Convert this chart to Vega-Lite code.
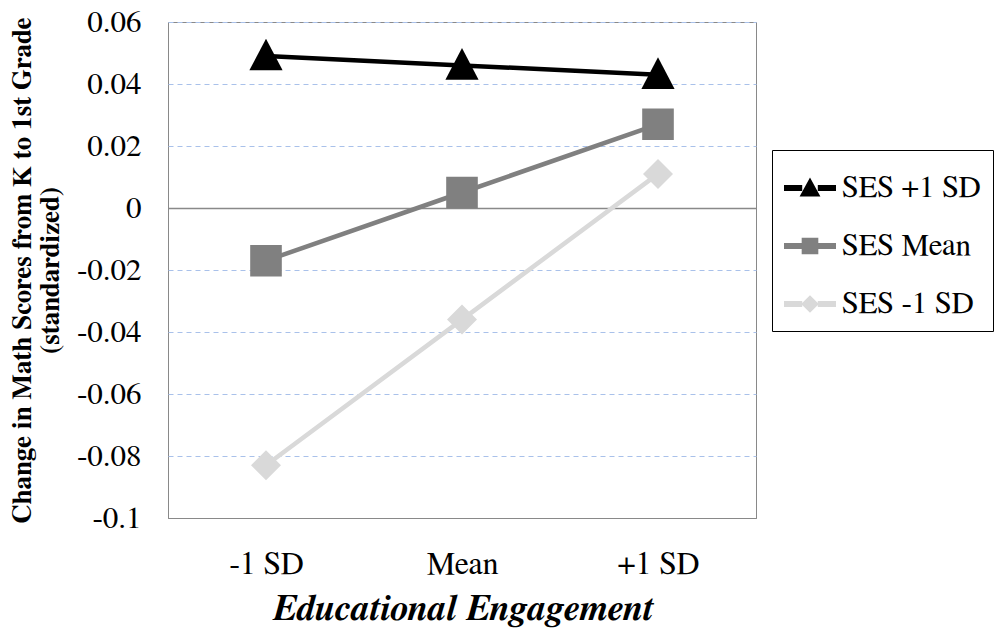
{
  "$schema": "https://vega.github.io/schema/vega-lite/v6.json",
  "width": 588,
  "height": 496,
  "autosize": {"type": "none"},
  "padding": {"left": 168, "top": 22, "right": 244, "bottom": 119},
  "background": "white",
  "config": {
    "font": "FreeSerif",
    "axis": {"labelFont": "FreeSerif", "titleFont": "FreeSerif"},
    "legend": {"labelFont": "FreeSerif"},
    "view": {"stroke": "#898989", "strokeWidth": 1}
  },
  "data": {
    "values": [
      {"engagement": "-1 SD", "series": "SES +1 SD", "value": 0.049},
      {"engagement": "Mean", "series": "SES +1 SD", "value": 0.046},
      {"engagement": "+1 SD", "series": "SES +1 SD", "value": 0.043},
      {"engagement": "-1 SD", "series": "SES Mean", "value": -0.017},
      {"engagement": "Mean", "series": "SES Mean", "value": 0.005},
      {"engagement": "+1 SD", "series": "SES Mean", "value": 0.027},
      {"engagement": "-1 SD", "series": "SES -1 SD", "value": -0.083},
      {"engagement": "Mean", "series": "SES -1 SD", "value": -0.036},
      {"engagement": "+1 SD", "series": "SES -1 SD", "value": 0.011}
    ]
  },
  "encoding": {
    "x": {
      "field": "engagement",
      "type": "nominal",
      "sort": ["-1 SD", "Mean", "+1 SD"],
      "scale": {"type": "point", "padding": 0.5},
      "axis": {
        "title": "Educational Engagement",
        "titleFontSize": 37,
        "titleFontWeight": "bold",
        "titleFontStyle": "italic",
        "titleColor": "black",
        "titlePadding": 11,
        "labelFontSize": 32,
        "labelColor": "black",
        "labelAngle": 0,
        "labelPadding": 30,
        "ticks": false,
        "domainColor": "#898989",
        "grid": false
      }
    },
    "y": {
      "field": "value",
      "type": "quantitative",
      "scale": {"domain": [-0.1, 0.06], "nice": false, "zero": false},
      "axis": {
        "title": ["Change in Math Scores from K to 1st Grade", "(standardized)"],
        "titleFontSize": 27,
        "titleFontWeight": "bold",
        "titleColor": "black",
        "titlePadding": 12,
        "titleLineHeight": 28,
        "values": [-0.1, -0.08, -0.06, -0.04, -0.02, 0, 0.02, 0.04, 0.06],
        "labelExpr": "toString(datum.value)",
        "labelFontSize": 31,
        "labelColor": "black",
        "labelPadding": 27,
        "ticks": false,
        "domain": false,
        "grid": true,
        "gridColor": {"expr": "datum.value === 0 || datum.value === -0.1 ? '#898989' : '#A9C1EA'"},
        "gridDash": {"expr": "datum.value === 0 || datum.value === -0.1 ? [] : [5, 4]"},
        "gridWidth": {"expr": "datum.value === 0 ? 1.5 : 1"}
      }
    }
  },
  "layer": [
    {
      "mark": {"type": "line", "strokeWidth": 4.5},
      "encoding": {
        "color": {
          "field": "series",
          "type": "nominal",
          "scale": {"domain": ["SES +1 SD", "SES Mean", "SES -1 SD"], "range": ["#000000", "#808080", "#D9D9D9"]},
          "legend": null
        }
      }
    },
    {
      "mark": {"type": "point", "filled": true, "opacity": 1, "size": 1000},
      "encoding": {
        "color": {
          "field": "series",
          "type": "nominal",
          "scale": {"domain": ["SES +1 SD", "SES Mean", "SES -1 SD"], "range": ["#000000", "#808080", "#D9D9D9"]},
          "legend": null
        },
        "shape": {
          "field": "series",
          "type": "nominal",
          "scale": {
            "domain": ["SES +1 SD", "SES Mean", "SES -1 SD"],
            "range": [
              "M0,-1.1 L1.05,0.9 L-1.05,0.9 Z",
              "M-1,-1 L1,-1 L1,1 L-1,1 Z",
              "M0,-0.95 L0.95,0 L0,0.95 L-0.95,0 Z"
            ]
          },
          "legend": null
        }
      }
    },
    {
      "mark": {"type": "point", "filled": true, "opacity": 1, "size": 0},
      "encoding": {
        "color": {
          "field": "series",
          "type": "nominal",
          "scale": {"domain": ["SES +1 SD", "SES Mean", "SES -1 SD"], "range": ["#000000", "#808080", "#D9D9D9"]},
          "legend": {
            "title": null,
            "orient": "none",
            "legendX": 604,
            "legendY": 128,
            "strokeColor": "black",
            "padding": 12,
            "symbolSize": 2704,
            "symbolOpacity": 1,
            "symbolStrokeWidth": 0,
            "labelFontSize": 31,
            "labelColor": "black",
            "labelOffset": 6,
            "rowPadding": 17,
            "labelLimit": 300
          }
        },
        "shape": {
          "field": "series",
          "type": "nominal",
          "scale": {
            "domain": ["SES +1 SD", "SES Mean", "SES -1 SD"],
            "range": [
              "M-1,-0.12 L-0.3,-0.12 L-0.3,0.12 L-1,0.12 Z M0.3,-0.12 L1,-0.12 L1,0.12 L0.3,0.12 Z M0,-0.4 L0.4,0.33 L-0.4,0.33 Z",
              "M-1,-0.12 L-0.3,-0.12 L-0.3,0.12 L-1,0.12 Z M0.3,-0.12 L1,-0.12 L1,0.12 L0.3,0.12 Z M-0.32,-0.32 L0.32,-0.32 L0.32,0.32 L-0.32,0.32 Z",
              "M-1,-0.12 L-0.3,-0.12 L-0.3,0.12 L-1,0.12 Z M0.3,-0.12 L1,-0.12 L1,0.12 L0.3,0.12 Z M0,-0.34 L0.34,0 L0,0.34 L-0.34,0 Z"
            ]
          },
          "legend": {
            "title": null,
            "orient": "none",
            "legendX": 604,
            "legendY": 128,
            "strokeColor": "black",
            "padding": 12,
            "symbolSize": 2704,
            "symbolOpacity": 1,
            "symbolStrokeWidth": 0,
            "labelFontSize": 31,
            "labelColor": "black",
            "labelOffset": 6,
            "rowPadding": 17,
            "labelLimit": 300
          }
        }
      }
    }
  ],
  "resolve": {"scale": {"color": "independent", "shape": "independent"}}
}
